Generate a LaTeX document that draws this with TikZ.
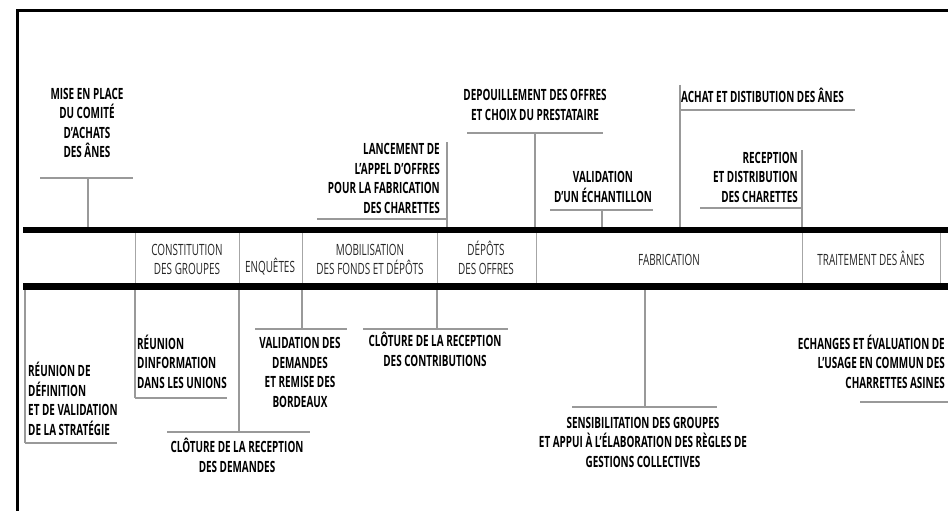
\documentclass[tikz,border=0pt]{standalone}
\usepackage{fontspec}
\setmainfont{Open Sans}[FakeStretch=0.64]
\begin{document}
\begin{tikzpicture}[x=1pt, y=-1pt,
        lbl/.style={font=\bfseries\fontsize{15.5}{19.5}\selectfont, inner sep=0pt},
        phase/.style={font=\fontsize{15.5}{19}\selectfont, text=black!85, inner sep=0pt, align=center},
        tick/.style={draw=black!40, line width=1.3pt},
        sep/.style={draw=black!35, line width=1pt},
        bar/.style={draw=black, line width=6.5pt}]
                \useasboundingbox (0,0) rectangle (948,511);
                \draw[line width=3pt] (17,511) -- (17,11) -- (948,11);

                % les deux barres
                \coordinate (b1l) at (23,230);   \coordinate (b1r) at (948,230);
                \coordinate (b2l) at (23,286.5); \coordinate (b2r) at (948,286.5);
                \draw[bar] (b1l) -- (b1r);
                \draw[bar] (b2l) -- (b2r);
                \draw[sep] (135,233) -- (135,283);
                \draw[sep] (239,233) -- (239,283);
                \draw[sep] (302,233) -- (302,283);
                \draw[sep] (437,233) -- (437,283);
                \draw[sep] (536,233) -- (536,283);
                \draw[sep] (802,233) -- (802,283);
                \draw[sep] (940,233) -- (940,283);

                % phases
                \node[phase, anchor=south] (constit) at (187,275) {CONSTITUTION\\DES GROUPES};
                \node[phase, anchor=south] (enq)     at (270,275) {ENQUÊTES};
                \node[phase, anchor=south] (mobil)   at (370,275) {MOBILISATION\\DES FONDS ET DÉPÔTS};
                \node[phase, anchor=south] (depot)   at (486,275) {DÉPÔTS\\DES OFFRES};
                \node[phase, anchor=south] (fabric)  at (669,265.5) {FABRICATION};
                \node[phase, anchor=south] (trait)   at (871,266) {TRAITEMENT DES ÂNES};

                % en haut
                \node[lbl, anchor=south, align=center] (mise) at (87,158) {MISE EN PLACE\\DU COMITÉ\\D'ACHATS\\DES ÂNES};
                \node[lbl, anchor=south east, align=right] (lanc) at (440,213.5) {LANCEMENT DE\\L'APPEL D'OFFRES\\POUR LA FABRICATION\\DES CHARETTES};
                \node[lbl, anchor=south, align=center] (depo) at (535,120.5) {DEPOUILLEMENT DES OFFRES\\ET CHOIX DU PRESTATAIRE};
                \node[lbl, anchor=south, align=center] (vali) at (603,202.5) {VALIDATION\\D'UN ÉCHANTILLON};
                \node[lbl, anchor=south west, align=left] (achat) at (681,102.5) {ACHAT ET DISTIBUTION DES ÂNES};
                \node[lbl, anchor=south east, align=right] (recep) at (798,202.5) {RECEPTION\\ET DISTRIBUTION\\DES CHARETTES};

                \coordinate (u1a) at (40,178);  \coordinate (u1b) at (133,178);
                \coordinate (s1a) at (88,178);  \coordinate (s1b) at (88,227);
                \coordinate (u2a) at (317,219); \coordinate (u2b) at (447,219);
                \coordinate (s2a) at (447,142); \coordinate (s2b) at (447,227);
                \coordinate (u3a) at (467,133); \coordinate (u3b) at (603,133);
                \coordinate (s3a) at (535,133); \coordinate (s3b) at (535,227);
                \coordinate (u4a) at (550,210); \coordinate (u4b) at (653,210);
                \coordinate (s4a) at (602,210); \coordinate (s4b) at (602,227);
                \coordinate (u5a) at (680,110); \coordinate (u5b) at (855,110);
                \coordinate (s5a) at (680,85);  \coordinate (s5b) at (680,227);
                \coordinate (u6a) at (700,208); \coordinate (u6b) at (802,208);
                \coordinate (s6a) at (802,150); \coordinate (s6b) at (802,227);
                \draw[tick] (u1a) -- (u1b);  \draw[tick] (s1a) -- (s1b);
                \draw[tick] (u2a) -- (u2b);  \draw[tick] (s2a) -- (s2b);
                \draw[tick] (u3a) -- (u3b);  \draw[tick] (s3a) -- (s3b);
                \draw[tick] (u4a) -- (u4b);  \draw[tick] (s4a) -- (s4b);
                \draw[tick] (u5a) -- (u5b);  \draw[tick] (s5a) -- (s5b);
                \draw[tick] (u6a) -- (u6b);  \draw[tick] (s6a) -- (s6b);

                % en bas
                \node[lbl, anchor=south west, align=left] (reun) at (28,435.5) {RÉUNION DE\\DÉFINITION\\ET DE VALIDATION\\DE LA STRATÉGIE};
                \node[lbl, anchor=south west, align=left] (info) at (137,388.5) {RÉUNION\\DINFORMATION\\DANS LES UNIONS};
                \node[lbl, anchor=south, align=center] (clodem) at (237,472.5) {CLÔTURE DE LA RECEPTION\\DES DEMANDES};
                \node[lbl, anchor=south, align=center] (valdem) at (300,407.5) {VALIDATION DES\\DEMANDES\\ET REMISE DES\\BORDEAUX};
                \node[lbl, anchor=south, align=center] (clocon) at (435,366.5) {CLÔTURE DE LA RECEPTION\\DES CONTRIBUTIONS};
                \node[lbl, anchor=south, align=center] (sensi) at (643,467.5) {SENSIBILITATION DES GROUPES\\ET APPUI À L'ÉLABORATION DES RÈGLES DE\\GESTIONS COLLECTIVES};
                \node[lbl, anchor=south east, align=right] (echan) at (945,388.5) {ECHANGES ET ÉVALUATION DE\\L'USAGE EN COMMUN DES\\CHARRETTES ASINES};

                \coordinate (ua1) at (25,443);  \coordinate (ua2) at (117,443);
                \coordinate (sa1) at (25,290);  \coordinate (sa2) at (25,443);
                \coordinate (ub1) at (135,398); \coordinate (ub2) at (227,398);
                \coordinate (sb1) at (135,290); \coordinate (sb2) at (135,398);
                \coordinate (uc1) at (167,432); \coordinate (uc2) at (310,432);
                \coordinate (sc1) at (239,290); \coordinate (sc2) at (239,432);
                \coordinate (ud1) at (255,329); \coordinate (ud2) at (347,329);
                \coordinate (sd1) at (302,290); \coordinate (sd2) at (302,329);
                \coordinate (ue1) at (363,329); \coordinate (ue2) at (508,329);
                \coordinate (se1) at (437,290); \coordinate (se2) at (437,329);
                \coordinate (uf1) at (572,407); \coordinate (uf2) at (717,407);
                \coordinate (sf1) at (645,290); \coordinate (sf2) at (645,407);
                \coordinate (ug1) at (860,402); \coordinate (ug2) at (948,402);
                \draw[tick] (ua1) -- (ua2);  \draw[tick] (sa1) -- (sa2);
                \draw[tick] (ub1) -- (ub2);  \draw[tick] (sb1) -- (sb2);
                \draw[tick] (uc1) -- (uc2);  \draw[tick] (sc1) -- (sc2);
                \draw[tick] (ud1) -- (ud2);  \draw[tick] (sd1) -- (sd2);
                \draw[tick] (ue1) -- (ue2);  \draw[tick] (se1) -- (se2);
                \draw[tick] (uf1) -- (uf2);  \draw[tick] (sf1) -- (sf2);
                \draw[tick] (ug1) -- (ug2);
            \end{tikzpicture}
\end{document}
